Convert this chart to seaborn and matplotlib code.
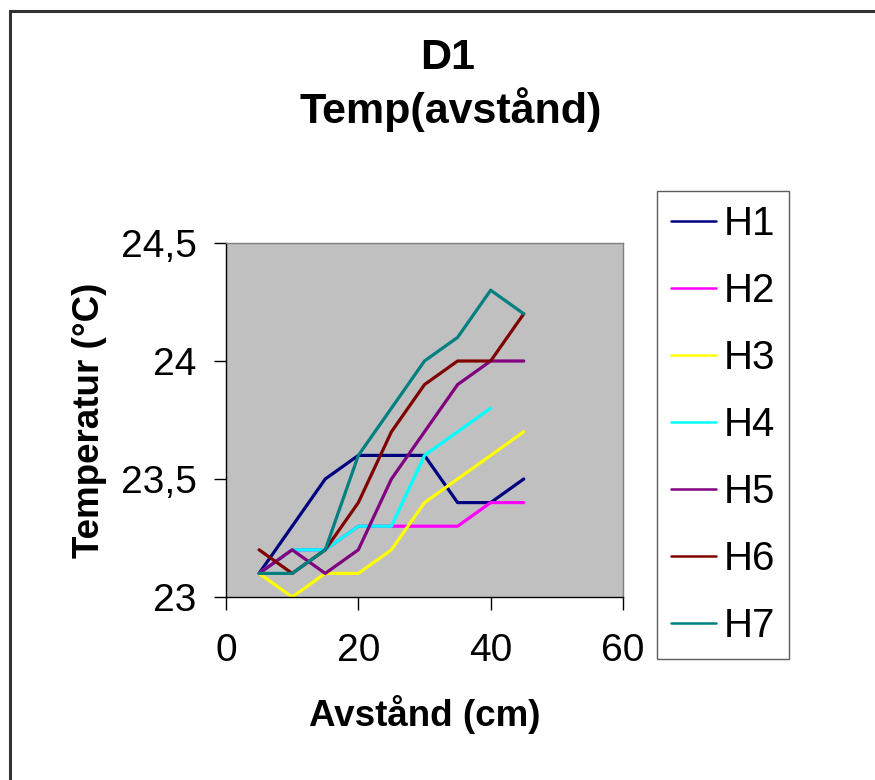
import numpy as np
import pandas as pd
import matplotlib
matplotlib.use("Agg")
import matplotlib.pyplot as plt
import seaborn as sns
from matplotlib.patches import Rectangle
from matplotlib.lines import Line2D

distance = [5, 10, 15, 20, 25, 30, 35, 40, 45]
H1 = [23.1, 23.3, 23.5, 23.6, 23.6, 23.6, 23.4, 23.4, 23.5]
H2 = [23.1, 23.2, 23.2, 23.3, 23.3, 23.3, 23.3, 23.4, 23.4]
H3 = [23.1, 23.0, 23.1, 23.1, 23.2, 23.4, 23.5, 23.6, 23.7]
H4 = [23.1, 23.2, 23.2, 23.3, 23.3, 23.6, 23.7, 23.8, np.nan]
H5 = [23.1, 23.2, 23.1, 23.2, 23.5, 23.7, 23.9, 24.0, 24.0]
H6 = [23.2, 23.1, 23.2, 23.4, 23.7, 23.9, 24.0, 24.0, 24.2]
H7 = [23.1, 23.1, 23.2, 23.6, 23.8, 24.0, 24.1, 24.3, 24.2]
series_names = ["H1", "H2", "H3", "H4", "H5", "H6", "H7"]
colors = ["#000080", "#FF00FF", "#FFFF00", "#00FFFF", "#800080", "#800000", "#008080"]
x_ticks = [0, 20, 40, 60]
y_ticks = [23, 23.5, 24, 24.5]
y_tick_labels = ["23", "23,5", "24", "24,5"]

sns.set_theme(style="white")
plt.rcParams['font.family'] = ['Liberation Sans', 'DejaVu Sans']
plt.rcParams['text.color'] = 'black'
plt.rcParams['axes.labelcolor'] = 'black'

rows = []
for name, vals in zip(series_names, [H1, H2, H3, H4, H5, H6, H7]):
    for d, v in zip(distance, vals):
        rows.append({"Avstånd": d, "Temp": v, "Serie": name})
df = pd.DataFrame(rows)

fig = plt.figure(figsize=(8.75, 7.8), dpi=100)
fig.patch.set_facecolor("white")
fig.patches.append(Rectangle((10/875, -0.1), 1.2, 1 - 11/780 + 0.1, transform=fig.transFigure,
                             fill=False, edgecolor="#333333", linewidth=2.2, zorder=0))

ax = fig.add_axes([226/875, (780-597)/780, 397/875, 354/780])
ax.set_facecolor("#C0C0C0")

sns.lineplot(data=df, x="Avstånd", y="Temp", hue="Serie", palette=colors,
             hue_order=series_names, linewidth=2.3, ax=ax, legend=False, sort=False)

ax.set_xlim(0, 60)
ax.set_ylim(23, 24.5)
ax.set_xticks(x_ticks)
ax.set_xticklabels([str(t) for t in x_ticks])
ax.set_yticks(y_ticks)
ax.set_yticklabels(y_tick_labels)
ax.tick_params(axis="both", labelsize=28, colors="black", direction="out", length=9, width=1,
               left=True, bottom=True)
ax.tick_params(axis="x", pad=17)
ax.tick_params(axis="y", pad=12)
for s in ["top", "right"]:
    ax.spines[s].set_color("#808080")
    ax.spines[s].set_linewidth(1)
for s in ["left", "bottom"]:
    ax.spines[s].set_color("black")
    ax.spines[s].set_linewidth(1)

ax.set_xlabel("Avstånd (cm)", fontsize=26.5, fontweight="bold", labelpad=19, color="black")
ax.set_ylabel("Temperatur (°C)", fontsize=26.5, fontweight="bold", labelpad=10, color="black")

fig.text(448/875, 1 - 58/780, "D1", ha="center", va="center", fontsize=31, fontweight="bold", color="black")
fig.text(451/875, 1 - 110/780, "Temp(avstånd)", ha="center", va="center", fontsize=31, fontweight="bold", color="black")

handles = [Line2D([0], [0], color=c, lw=1.8) for c in colors]
leg = fig.legend(handles, series_names, loc="upper left",
                 bbox_to_anchor=(657/875, 1 - 191/780), fontsize=29,
                 frameon=True, fancybox=False, handlelength=1.12, handletextpad=0.18,
                 labelspacing=0.72, borderpad=0.35, borderaxespad=0)
for t in leg.get_texts():
    t.set_color("black")
leg.get_frame().set_edgecolor("#333333")
leg.get_frame().set_linewidth(1)
leg.get_frame().set_boxstyle("square", pad=0)

fig.savefig("out.png", dpi=100)
